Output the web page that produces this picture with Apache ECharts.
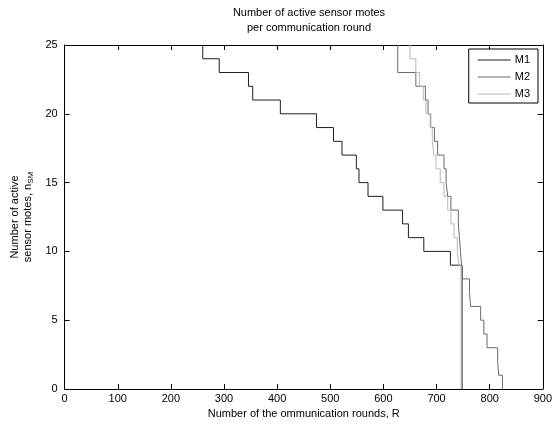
<!DOCTYPE html>
<html>
<head>
<meta charset="utf-8">
<script src="https://cdn.jsdelivr.net/npm/echarts@6/dist/echarts.min.js"></script>
<style>html,body{margin:0;padding:0;background:#fff}#c{width:555px;height:425px}</style>
</head>
<body>
<div id="c"></div>
<script>
// Data (x = round at which the count drops, y = count after the drop)
const startValue = 25;
const m1X = [260, 291, 346, 354, 406, 474, 506, 522, 549, 554, 571, 599, 636, 647, 676, 726, 748];
const m1Y = [24, 23, 22, 21, 20, 19, 18, 17, 16, 15, 14, 13, 12, 11, 10, 9, 0];
const m2X = [627, 661, 679, 684, 689, 696, 702, 714, 718, 721, 727, 741, 743, 745, 747, 749, 762, 764, 783, 789, 795, 815, 817, 824];
const m2Y = [23, 22, 21, 20, 19, 18, 17, 16, 15, 14, 13, 12, 11, 10, 9, 8, 7, 6, 5, 4, 3, 2, 1, 0];
const m3X = [650, 661, 668, 675, 680, 688, 692, 695, 699, 707, 714, 721, 727, 733, 739, 742, 746];
const m3Y = [24, 23, 22, 21, 20, 19, 18, 17, 16, 15, 14, 13, 12, 11, 10, 9, 0];
const seriesNames = ['M1', 'M2', 'M3'];
const xTicks = [0, 100, 200, 300, 400, 500, 600, 700, 800, 900];
const yTicks = [0, 5, 10, 15, 20, 25];

function build(xs, ys) {
  const d = [[xs[0], startValue]];
  for (let i = 0; i < xs.length; i++) d.push([xs[i], ys[i]]);
  return d;
}

const font = 'Liberation Sans, Arial, sans-serif';
const chart = echarts.init(document.getElementById('c'), null, {renderer: 'canvas'});
function tick() { return {show: true, inside: true, length: 5, lineStyle: {color: '#000', width: 1}}; }
function line() { return {show: true, onZero: false, lineStyle: {color: '#000', width: 1}}; }
chart.setOption({
  animation: false,
  backgroundColor: '#fff',
  title: {
    text: 'Number of active sensor motes\nper communication round',
    left: 304, top: 0, textAlign: 'center',
    textStyle: {fontFamily: font, fontSize: 11, fontWeight: 'normal', color: '#000', lineHeight: 15}
  },
  grid: {left: 64, right: 11, top: 45, bottom: 36, containLabel: false},
  legend: {
    data: seriesNames, orient: 'vertical', right: 17, top: 49,
    itemWidth: 33, itemHeight: 1, itemGap: 5, icon: 'rect',
    borderColor: '#000', borderWidth: 1, padding: [5, 8, 3, 9], backgroundColor: '#fff',
    textStyle: {fontFamily: font, fontSize: 11, color: '#000', padding: [0, 0, 0, -1], lineHeight: 12}
  },
  xAxis: [
    {
      type: 'value', min: 0, max: 900, interval: 100, position: 'bottom',
      axisLine: line(), axisTick: tick(), splitLine: {show: false},
      name: 'Number of the ommunication rounds, R', nameLocation: 'middle', nameGap: 17,
      nameTextStyle: {fontFamily: font, fontSize: 11, color: '#000'},
      axisLabel: {fontFamily: font, fontSize: 11, color: '#000', margin: 4,
        formatter: v => xTicks.includes(v) ? String(v) : ''}
    },
    {
      type: 'value', min: 0, max: 900, interval: 100, position: 'top',
      axisLine: line(), axisTick: tick(), splitLine: {show: false},
      axisLabel: {show: false}
    }
  ],
  yAxis: [
    {
      type: 'value', min: 0, max: 25, interval: 5, position: 'left',
      axisLine: line(), axisTick: tick(), splitLine: {show: false},
      name: '{t|Number of active}\n{t|sensor motes, n}{s|SM}', nameLocation: 'middle', nameGap: 25,
      nameTextStyle: {fontFamily: font, fontSize: 11, color: '#000', lineHeight: 13,
        rich: {t: {fontFamily: font, fontSize: 11, color: '#000', lineHeight: 13},
               s: {fontFamily: font, fontSize: 8, color: '#000', padding: [6, 0, 0, 0], lineHeight: 13}}},
      axisLabel: {fontFamily: font, fontSize: 11, color: '#000', margin: 7,
        formatter: v => yTicks.includes(v) ? String(v) : ''}
    },
    {
      type: 'value', min: 0, max: 25, interval: 5, position: 'right',
      axisLine: line(), axisTick: tick(), splitLine: {show: false},
      axisLabel: {show: false}
    }
  ],
  series: [
    {name: 'M1', type: 'line', step: 'end', showSymbol: false, symbol: 'none',
     data: build(m1X, m1Y), color: '#1e1e1e', lineStyle: {width: 1, color: '#1e1e1e'}},
    {name: 'M2', type: 'line', step: 'end', showSymbol: false, symbol: 'none',
     data: build(m2X, m2Y), color: '#6a6a6a', lineStyle: {width: 1, color: '#6a6a6a'}},
    {name: 'M3', type: 'line', step: 'end', showSymbol: false, symbol: 'none',
     data: build(m3X, m3Y), color: '#b8b8b8', lineStyle: {width: 1, color: '#b8b8b8'}}
  ]
});
</script>
</body>
</html>
